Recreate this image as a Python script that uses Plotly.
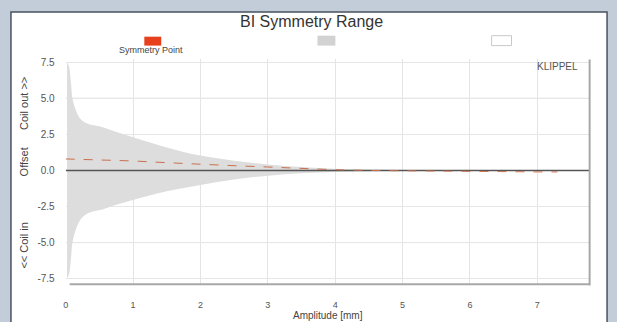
import plotly.graph_objects as go

# ---- data ----
amp = [0.02, 0.05, 0.08, 0.1, 0.15, 0.2, 0.25, 0.3, 0.4, 0.55, 0.7, 1.0, 1.5, 2.0, 2.5, 3.0, 3.5, 4.0, 4.5, 5.0, 5.5, 6.0, 6.5, 7.0, 7.3]
upper = [7.5, 7.2, 6.0, 5.0, 4.2, 3.7, 3.45, 3.3, 3.15, 3.0, 2.75, 2.3, 1.6, 1.03, 0.68, 0.42, 0.24, 0.12, 0.07, 0.04, 0.03, 0.02, 0.02, 0.01, 0.01]
lower = [-7.5, -7.2, -6.0, -5.0, -4.1, -3.55, -3.25, -3.05, -2.85, -2.7, -2.45, -2.05, -1.45, -1.0, -0.62, -0.36, -0.2, -0.1, -0.06, -0.04, -0.03, -0.02, -0.02, -0.01, -0.01]
sym_x = [0.0, 0.5, 1.0, 1.5, 2.0, 2.5, 3.0, 3.5, 4.0, 4.5, 5.0, 5.5, 6.0, 6.5, 7.0, 7.3]
sym_y = [0.8, 0.74, 0.66, 0.54, 0.42, 0.33, 0.24, 0.13, 0.05, 0.0, -0.03, -0.06, -0.08, -0.1, -0.1, -0.1]
xticks = [0, 1, 2, 3, 4, 5, 6, 7]
yticks = [-7.5, -5.0, -2.5, 0.0, 2.5, 5.0, 7.5]

W, H = 617, 322
FONT = "Liberation Sans, Arial"
def px(x): return x / W
def py(y): return 1 - y / H

fig = go.Figure()
fig.add_trace(go.Scatter(x=amp, y=upper, mode="lines", line=dict(width=0, color="#dadada", shape="spline"),
                         showlegend=False, hoverinfo="skip"))
fig.add_trace(go.Scatter(x=amp, y=lower, mode="lines", line=dict(width=0, color="#dadada", shape="spline"),
                         fill="tonexty", fillcolor="#dddddd", showlegend=False, hoverinfo="skip"))
fig.add_trace(go.Scatter(x=[0, 7.77], y=[0, 0], mode="lines", line=dict(color="#555555", width=1.5),
                         showlegend=False, hoverinfo="skip"))
fig.add_trace(go.Scatter(x=sym_x, y=sym_y, mode="lines", line=dict(color="#c8704f", width=1, dash="dash"),
                         showlegend=False, hoverinfo="skip"))

shapes = [
    dict(type="rect", xref="paper", yref="paper", x0=px(8), x1=px(607), y0=py(323), y1=py(9),
         fillcolor="white", line=dict(color="#4a5260", width=1.5), layer="below"),
    dict(type="line", xref="x", yref="y", x0=0, x1=7.77, y0=5, y1=5, line=dict(color="#b8b8b8", width=1), layer="below"),
    dict(type="line", xref="x", yref="y", x0=0, x1=7.77, y0=-5, y1=-5, line=dict(color="#b8b8b8", width=1), layer="below"),
    dict(type="line", xref="paper", yref="paper", x0=px(589.5), x1=px(589.5), y0=py(57), y1=py(285),
         line=dict(color="#a8a8a8", width=2)),
    dict(type="line", xref="paper", yref="paper", x0=px(67), x1=px(590), y0=py(284), y1=py(284),
         line=dict(color="#a8a8a8", width=2)),
    dict(type="rect", xref="paper", yref="paper", x0=px(142), x1=px(159), y0=py(43), y1=py(34),
         fillcolor="#e8401c", line=dict(width=0)),
    dict(type="rect", xref="paper", yref="paper", x0=px(316), x1=px(334), y0=py(43), y1=py(33),
         fillcolor="#d2d2d2", line=dict(width=0)),
    dict(type="rect", xref="paper", yref="paper", x0=px(491), x1=px(511), y0=py(43), y1=py(33),
         fillcolor="white", line=dict(color="#c8c8c8", width=1)),
]

def ann(text, x, y, size, color="#444444", angle=0):
    return dict(text=text, x=px(x), y=py(y), xref="paper", yref="paper", showarrow=False,
                xanchor="center", yanchor="middle", textangle=angle,
                font=dict(size=size, color=color, family=FONT))

annotations = [
    ann("BI Symmetry Range", 310, 19, 16, "#333333"),
    ann("Symmetry Point", 149, 47, 9),
    ann("KLIPPEL", 557, 64, 10, "#555555"),
    ann("Coil out >>", 21, 101, 11, angle=-90),
    ann("Offset", 21, 160, 11, angle=-90),
    ann("<< Coil in", 21, 245, 11, angle=-90),
    ann("Amplitude [mm]", 327, 315, 10),
]

fig.update_layout(
    width=W, height=H, margin=dict(l=0, r=0, t=0, b=0),
    paper_bgcolor="#c3ccd9", plot_bgcolor="rgba(0,0,0,0)",
    shapes=shapes, annotations=annotations, showlegend=False,
    xaxis=dict(domain=[px(63), px(589)], range=[0, 7.77], tickvals=xticks,
               ticktext=[str(v) for v in xticks], showgrid=True, gridcolor="#e4e4e4", gridwidth=1,
               zeroline=False, showline=False, ticks="", ticklabelstandoff=14,
               tickfont=dict(size=9, color="#555555", family=FONT)),
    yaxis=dict(domain=[py(284), py(57)], range=[-7.9, 7.7], tickvals=yticks,
               ticktext=["%.1f" % v for v in yticks], showgrid=True, gridcolor="#e6e6e6", gridwidth=1,
               zeroline=False, showline=False, ticks="", ticklabelstandoff=10,
               tickfont=dict(size=10, color="#555555", family=FONT)),
)

fig.write_html("out.html")
